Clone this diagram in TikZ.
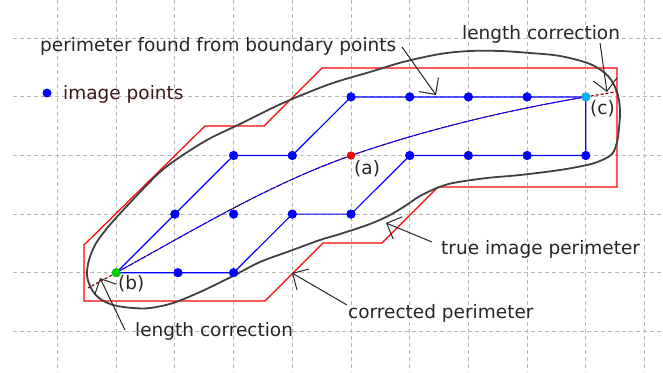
\documentclass[tikz,border=0pt]{standalone}
\usepackage{fontspec}
\setmainfont{DejaVu Sans}
\usetikzlibrary{arrows.meta}
\begin{document}
\begin{tikzpicture}[x=1pt,y=-1pt,
  gridline/.style={draw=black!28, line width=0.9pt, dash pattern=on 4pt off 3pt},
  ptdot/.style={circle, fill=blue, inner sep=0pt, minimum size=9pt},
  bline/.style={draw=blue, line width=1.2pt},
  redpoly/.style={draw=red, line width=1.2pt},
  trueper/.style={draw=black!75, line width=1.8pt},
  lbl/.style={font=\fontsize{18.5}{20}\selectfont, text=black!85, inner sep=0pt, anchor=base west},
  annot/.style={draw=black!85, line width=1pt, -{Straight Barb[length=12pt,width=24pt]}},
  corr/.style={draw=red!55!black, line width=1.2pt, dash pattern=on 3pt off 2pt}
]
\useasboundingbox (0,0) rectangle (663,372);
\fill[white] (0,0) rectangle (663,372);
% grid
\foreach \i in {0,...,10} \draw[gridline] ({57.5+58.7*\i},0) -- ({57.5+58.7*\i},372);
\foreach \j in {0,...,5} \draw[gridline] (13,{38.3+58.6*\j}) -- (663,{38.3+58.6*\j});

% corrected perimeter (red)
\draw[redpoly] (84,245) -- (205,126) -- (264,126) -- (322,68) -- (617,68) -- (617,187)
  -- (438,187) -- (382,243) -- (323,243) -- (265,301) -- (84,301) -- cycle;

% true image perimeter
\draw[trueper] plot[smooth cycle, tension=0.55] coordinates {
 (87,275) (89,260) (95,245) (104,232) (115,219) (127,206) (143,189) (160,172) (177,159) (207,140)
 (240,124) (283,103) (330,84) (370,72) (403,62) (440,54) (470,51) (500,51) (530,53)
 (560,56) (590,64) (608,76) (617,92) (620,110) (619,128) (617,142) (612,154) (600,161)
 (587,165) (560,170) (520,175) (487,178) (453,183) (437,188) (420,196) (405,206)
 (390,215) (370,224) (340,234) (320,240) (290,251) (260,262) (233,276) (200,292)
 (173,303) (150,308) (133,308) (113,305) (99,298) (91,288)};

% image points
\node[ptdot] (p51) at (351.0,96.9) {};
\node[ptdot] (p61) at (409.7,96.9) {};
\node[ptdot] (p71) at (468.4,96.9) {};
\node[ptdot] (p81) at (527.1,96.9) {};
\node[ptdot, fill=cyan] (pc) at (585.8,96.9) {};
\node[ptdot] (p32) at (233.6,155.5) {};
\node[ptdot] (p42) at (292.3,155.5) {};
\node[ptdot, fill=red, minimum size=8pt] (pa) at (351.0,155.5) {};
\node[ptdot] (p62) at (409.7,155.5) {};
\node[ptdot] (p72) at (468.4,155.5) {};
\node[ptdot] (p82) at (527.1,155.5) {};
\node[ptdot] (p92) at (585.8,155.5) {};
\node[ptdot] (p23) at (174.9,214.1) {};
\node[ptdot] (p33) at (233.6,214.1) {};
\node[ptdot] (p43) at (292.3,214.1) {};
\node[ptdot] (p53) at (351.0,214.1) {};
\node[ptdot, fill=green!80!black] (pb) at (116.2,272.7) {};
\node[ptdot] (p24) at (178.0,272.7) {};
\node[ptdot] (p34) at (233.6,272.7) {};

% perimeter found from boundary points
\draw[bline] (pb.center) -- (p23.center) -- (p32.center) -- (p42.center) -- (p51.center)
  -- (p61.center) -- (p71.center) -- (p81.center) -- (pc.center) -- (p92.center)
  -- (p82.center) -- (p72.center) -- (p62.center) -- (p53.center) -- (p43.center)
  -- (p34.center) -- (p24.center) -- (pb.center);

% diagonal through (b), (a), (c)
\draw[draw=red!70!black, line width=0.7pt] (pb.center) .. controls (200,226.5) and (270,184.2) .. (pa.center)
  .. controls (430,128.2) and (510,109.8) .. (pc.center);
\draw[draw=blue, line width=1.1pt, dash pattern=on 6pt off 1pt] (pb.center) .. controls (200,226.5) and (270,184.2) .. (pa.center)
  .. controls (430,128.2) and (510,109.8) .. (pc.center);

% length corrections
\coordinate (cc) at (617,91.6);
\coordinate (cb) at (88,288);
\draw[corr] (pc.center) -- (cc);
\draw[corr] (pb.center) -- (cb);

% redraw dots on top
\foreach \n/\c in {p51/blue,p61/blue,p71/blue,p81/blue,p32/blue,p42/blue,p62/blue,p72/blue,p82/blue,p92/blue,p23/blue,p33/blue,p43/blue,p53/blue,p24/blue,p34/blue}
  \fill[\c] (\n) circle (4.5pt);
\fill[cyan] (pc) circle (4.5pt);
\fill[red] (pa) circle (4pt);
\fill[green!80!black] (pb) circle (4.5pt);

% legend
\node[circle, fill=blue, inner sep=0pt, minimum size=9pt] (legdot) at (47,93) {};
\node[lbl, text={rgb,255:red,60;green,25;blue,25}] (legtxt) at (63,99) {image points};

% labels
\node[lbl] (ta) at (354,174.7) {(a)};
\node[lbl] (tb) at (118,289.7) {(b)};
\node[lbl] (tc) at (590,114.7) {(c)};

\node[lbl] (tperim) at (40,51) {perimeter found from boundary points};
\node[lbl] (tlc1) at (462,39.5) {length correction};
\node[lbl] (ttrue) at (441,254) {true image perimeter};
\node[lbl] (tcorr) at (348,318) {corrected perimeter};
\node[lbl] (tlc2) at (135,336) {length correction};

% annotation arrows
\coordinate (s1) at (402,47);  \coordinate (e1) at (436,95);
\coordinate (s2) at (600,43);  \coordinate (e2) at (607,92);
\coordinate (s3) at (432,242); \coordinate (e3) at (386,223);
\coordinate (s4) at (347,305); \coordinate (e4) at (292,273);
\coordinate (s5) at (125,330); \coordinate (e5) at (100,278);
\draw[annot] (s1) -- (e1);
\draw[annot] (s2) -- (e2);
\draw[annot] (s3) -- (e3);
\draw[annot] (s4) -- (e4);
\draw[annot] (s5) -- (e5);
\end{tikzpicture}
\end{document}
